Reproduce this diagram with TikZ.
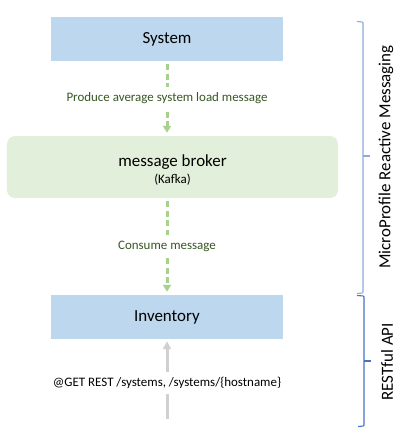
\documentclass[tikz,border=0pt]{standalone}
\usepackage{fontspec}
\setmainfont{Carlito}
\usetikzlibrary{arrows.meta}
\definecolor{boxblue}{RGB}{189,215,238}
\definecolor{boxgreen}{RGB}{226,239,218}
\definecolor{arrgreen}{RGB}{169,209,142}
\definecolor{lblgreen}{RGB}{56,87,35}
\definecolor{arrgray}{RGB}{208,208,208}
\definecolor{braceA}{RGB}{143,170,220}
\definecolor{braceB}{RGB}{68,114,196}
\begin{document}
\begin{tikzpicture}[x=1bp,y=-1bp,
  svc/.style={fill=boxblue, minimum width=232bp, minimum height=44bp, inner sep=0pt,
    font=\fontsize{17}{20}\selectfont},
  brokerbox/.style={fill=boxgreen, rounded corners=8bp, minimum width=331bp,
    minimum height=62bp, align=center, inner sep=0pt, font=\fontsize{17}{20}\selectfont},
  flow/.style={draw=arrgreen, line width=3bp, dash pattern=on 6bp off 3.5bp,
    -{Triangle[width=8bp,length=7bp]}, shorten <=3bp, shorten >=3bp},
  rest/.style={draw=arrgray, line width=3bp, -{Triangle[width=8bp,length=8bp]}, shorten >=2bp},
  flowlbl/.style={fill=white, text=lblgreen, font=\fontsize{13}{15}\selectfont,
    inner xsep=3bp, inner ysep=6bp},
  restlbl/.style={fill=white, text=black, font=\fontsize{13}{15}\selectfont,
    inner xsep=3bp, inner ysep=5bp},
  sidelbl/.style={rotate=90, font=\fontsize{17}{20}\selectfont},
  bracket/.style={line width=1.1bp, rounded corners=1bp}
]
\useasboundingbox (0,0) rectangle (406,432);
\node[svc] (system) at (167,39) {System};
\node[brokerbox] (broker) at (172.5,167)
  {\rule{0pt}{17bp}message broker\\[-3bp]{\fontsize{13}{15}\selectfont (Kafka)}};
\node[svc] (inventory) at (167,317) {Inventory};
\coordinate (client) at (167,419);
\draw[flow] (system.south) -- node[flowlbl] (lbla) {Produce average system load message} (system.south |- broker.north);
\draw[flow] (system.south |- broker.south) -- node[flowlbl] (lblb) {Consume message} (inventory.north);
\draw[rest] (client) -- node[restlbl, pos=0.45] (lblc) {@GET REST /systems, /systems/\{hostname\}} (inventory.south);
\draw[bracket, braceA] (357,21.5) -- (363,22) -- (363,293) -- (357,293.5);
\draw[bracket, braceA] (363,156) -- (370,156);
\draw[bracket, braceB] (357,295.5) -- (364,296) -- (364,426) -- (358,426.5);
\draw[bracket, braceB] (364,361) -- (371,361);
\node[sidelbl] (mprm) at (386,157) {MicroProfile Reactive Messaging};
\node[sidelbl] (rest) at (387,362) {RESTful API};
\end{tikzpicture}
\end{document}
